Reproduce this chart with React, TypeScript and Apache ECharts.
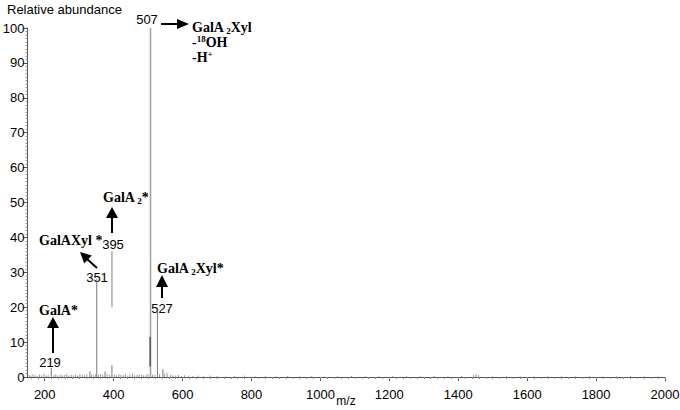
import React, { useEffect, useRef } from "react";
import * as echarts from "echarts";

// ---- data ----
// major/annotated peaks: m/z, intensity (%)
const peakMz = [219, 331, 351, 375, 395, 507, 527, 543];
const peakInt = [2.6, 1.6, 28.0, 1.6, 3.4, 100, 19.0, 2.3];
// leader segment drawn at 395 (from, to)
const leaderMz = [395];
const leaderFrom = [20];
const leaderTo = [36];
// darker overlapping segment on 507 line (505/506)
const overlapMz = [506];
const overlapFrom = [3];
const overlapTo = [11.5];
// baseline noise
const noiseMz = [155, 160, 166, 172, 178, 185, 191, 198, 204, 210, 226, 232, 238, 245, 251, 258, 264, 270, 277, 283, 290, 296, 302, 309, 315, 322, 336, 342, 348, 356, 362, 368, 381, 388, 402, 408, 415, 421, 428, 434, 441, 447, 455, 461, 468, 474, 481, 487, 494, 500, 513, 520, 533, 548, 555, 565, 572, 580, 588, 597, 606, 618, 630, 645, 660, 680, 700, 725, 750, 780, 810, 840, 870, 905, 940, 975, 1010, 1050, 1090, 1130, 1170, 1210, 1250, 1290, 1330, 1370, 1410, 1445, 1452, 1460, 1500, 1540, 1580, 1620, 1660, 1700, 1740, 1780, 1820, 1860, 1900, 1940, 1980];
const noiseInt = [0.6, 0.4, 0.8, 0.5, 0.3, 0.7, 0.5, 0.9, 0.4, 0.6, 0.5, 0.8, 0.4, 0.7, 0.5, 0.6, 0.9, 0.4, 0.6, 0.5, 0.7, 0.4, 0.8, 0.6, 0.5, 0.9, 0.7, 0.5, 0.8, 0.6, 0.9, 0.7, 0.8, 0.6, 0.7, 0.5, 0.8, 0.6, 0.5, 0.9, 0.4, 0.7, 1.0, 0.5, 0.6, 0.8, 0.7, 0.5, 0.6, 0.9, 0.7, 0.6, 0.8, 1.0, 1.2, 0.6, 0.5, 0.4, 0.6, 0.3, 0.5, 0.4, 0.3, 0.4, 0.3, 0.4, 0.3, 0.2, 0.3, 0.4, 0.2, 0.3, 0.2, 0.3, 0.2, 0.3, 0.2, 0.2, 0.3, 0.2, 0.2, 0.3, 0.2, 0.2, 0.3, 0.2, 0.3, 0.6, 0.8, 0.5, 0.2, 0.3, 0.2, 0.2, 0.3, 0.2, 0.2, 0.3, 0.2, 0.2, 0.3, 0.2, 0.2];

const xMin = 150;
const xMax = 2000;
const xTickLabels = [200, 400, 600, 800, 1000, 1200, 1400, 1600, 1800, 2000];
const xMinorTicks: number[] = [];
for (let v = 160; v <= 2000; v += 20) xMinorTicks.push(v);

const stickSeries = (name: string, data: number[][], color: string, width = 1) => ({
  name,
  type: "custom",
  xAxisIndex: 0,
  yAxisIndex: 0,
  data,
  encode: { x: 0, y: [1, 2] },
  renderItem: (_p: any, api: any) => {
    const x = api.value(0);
    const a = api.coord([x, api.value(1)]);
    const b = api.coord([x, api.value(2)]);
    return {
      type: "line",
      shape: { x1: a[0], y1: a[1], x2: b[0], y2: b[1] },
      style: { stroke: color, lineWidth: width },
    };
  },
  silent: true,
});

const serifBold = "bold 14px 'Liberation Serif', 'Times New Roman', serif";
const sans = "'Liberation Sans', Arial, sans-serif";

const richStyles = {
  b: { font: serifBold, fill: "#000", verticalAlign: "middle", lineHeight: 16 },
  s: { font: "bold 9px 'Liberation Serif', serif", fill: "#000", verticalAlign: "bottom", lineHeight: 16 },
  u: { font: "bold 9px 'Liberation Serif', serif", fill: "#000", verticalAlign: "top", lineHeight: 16 },
};

const richText = (x: number, y: number, text: string) => ({
  type: "text",
  x,
  y,
  style: { text, rich: richStyles, verticalAlign: "middle", font: serifBold, fill: "#000" },
});

const numText = (x: number, y: number, text: string) => ({
  type: "text",
  x,
  y,
  style: { text, font: `13px ${sans}`, fill: "#000", align: "center", verticalAlign: "middle" },
});

const arrowLine = (x1: number, y1: number, x2: number, y2: number) => ({
  type: "line",
  shape: { x1, y1, x2, y2 },
  style: { stroke: "#000", lineWidth: 2 },
});

const head = (pts: number[][]) => ({
  type: "polygon",
  shape: { points: pts },
  style: { fill: "#000" },
});

export default function App() {
  const ref = useRef<HTMLDivElement>(null);
  useEffect(() => {
    document.body.style.margin = "0";
    const chart = echarts.init(ref.current!, null, { renderer: "svg" });
    const peaks = peakMz.map((m, i) => [m, 0, peakInt[i]]);
    const noise = noiseMz.map((m, i) => [m, 0, noiseInt[i]]);
    const leader = leaderMz.map((m, i) => [m, leaderFrom[i], leaderTo[i]]);
    const overlap = overlapMz.map((m, i) => [m, overlapFrom[i], overlapTo[i]]);
    const big = peaks.filter((p) => p[0] === 507);
    const mid = peaks.filter((p) => p[0] !== 507);

    chart.setOption({
      animation: false,
      grid: { left: 27.5, right: 15, top: 28, bottom: 33, containLabel: false, outerBoundsMode: "none" },
      xAxis: [
        {
          type: "value",
          min: xMin,
          max: xMax,
          axisLine: { lineStyle: { color: "#555", width: 1 } },
          axisTick: { customValues: xTickLabels, length: 4, lineStyle: { color: "#555" } },
          axisLabel: {
            customValues: xTickLabels,
            fontFamily: sans,
            fontSize: 13,
            color: "#000",
            margin: 11,
            formatter: (v: number) => String(v),
          },
          splitLine: { show: false },
        },
        {
          type: "value",
          min: xMin,
          max: xMax,
          position: "bottom",
          axisLine: { show: false },
          axisTick: { customValues: xMinorTicks, length: 2, lineStyle: { color: "#888" } },
          axisLabel: { show: false },
          splitLine: { show: false },
        },
      ],
      yAxis: {
        type: "value",
        min: 0,
        max: 100,
        interval: 10,
        axisLine: { show: true, lineStyle: { color: "#555", width: 1 } },
        axisTick: { show: true, length: 4, lineStyle: { color: "#555" } },
        minorTick: { show: true, splitNumber: 10, length: 2, lineStyle: { color: "#999" } },
        axisLabel: { fontFamily: sans, fontSize: 13, color: "#000", margin: 3 },
        splitLine: { show: false },
      },
      series: [
        stickSeries("noise", noise, "#9a9a9a"),
        stickSeries("peaks", mid, "#777777"),
        stickSeries("base", big, "#a0a0a0", 1.5),
        stickSeries("overlap", overlap, "#555555", 1.5),
        stickSeries("leader", leader, "#aaaaaa", 1.5),
      ],
      graphic: [
        { type: "text", left: 7, top: 3, style: { text: "Relative abundance", font: `13px ${sans}`, fill: "#000" } },
        { type: "text", x: 346, y: 401, style: { text: "m/z", font: `12px ${sans}`, fill: "#000", align: "center", verticalAlign: "middle" } },
        // 507
        numText(147, 19, "507"),
        arrowLine(161, 24, 180, 24),
        head([[177, 19], [189, 24], [177, 29]]),
        richText(192, 27, "{b|GalA}{s| 2}{b|Xyl}"),
        richText(192, 42, "{b|-}{u|18}{b|OH}"),
        richText(192, 57, "{b|-H}{u|+}"),
        // 395
        richText(103, 197, "{b|GalA}{s| 2}{b|*}"),
        arrowLine(112, 233, 112, 215),
        head([[106, 218], [112, 207], [118, 218]]),
        numText(113, 244, "395"),
        // 351
        richText(39, 240, "{b|GalAXyl *}"),
        arrowLine(97, 268, 87, 259),
        head([[80, 252], [91.8, 255.5], [84.2, 263.5]]),
        numText(97, 277, "351"),
        // 527
        richText(157, 268, "{b|GalA}{s| 2}{b|Xyl*}"),
        arrowLine(162, 298, 162, 285),
        head([[156, 287], [162, 275], [168, 287]]),
        numText(162, 308, "527"),
        // 219
        richText(39, 310, "{b|GalA*}"),
        arrowLine(53, 353, 53, 326),
        head([[47, 328], [53, 317], [59, 328]]),
        numText(50, 362, "219"),
      ],
    });
    return () => chart.dispose();
  }, []);
  return <div ref={ref} style={{ width: 680, height: 410 }} />;
}
